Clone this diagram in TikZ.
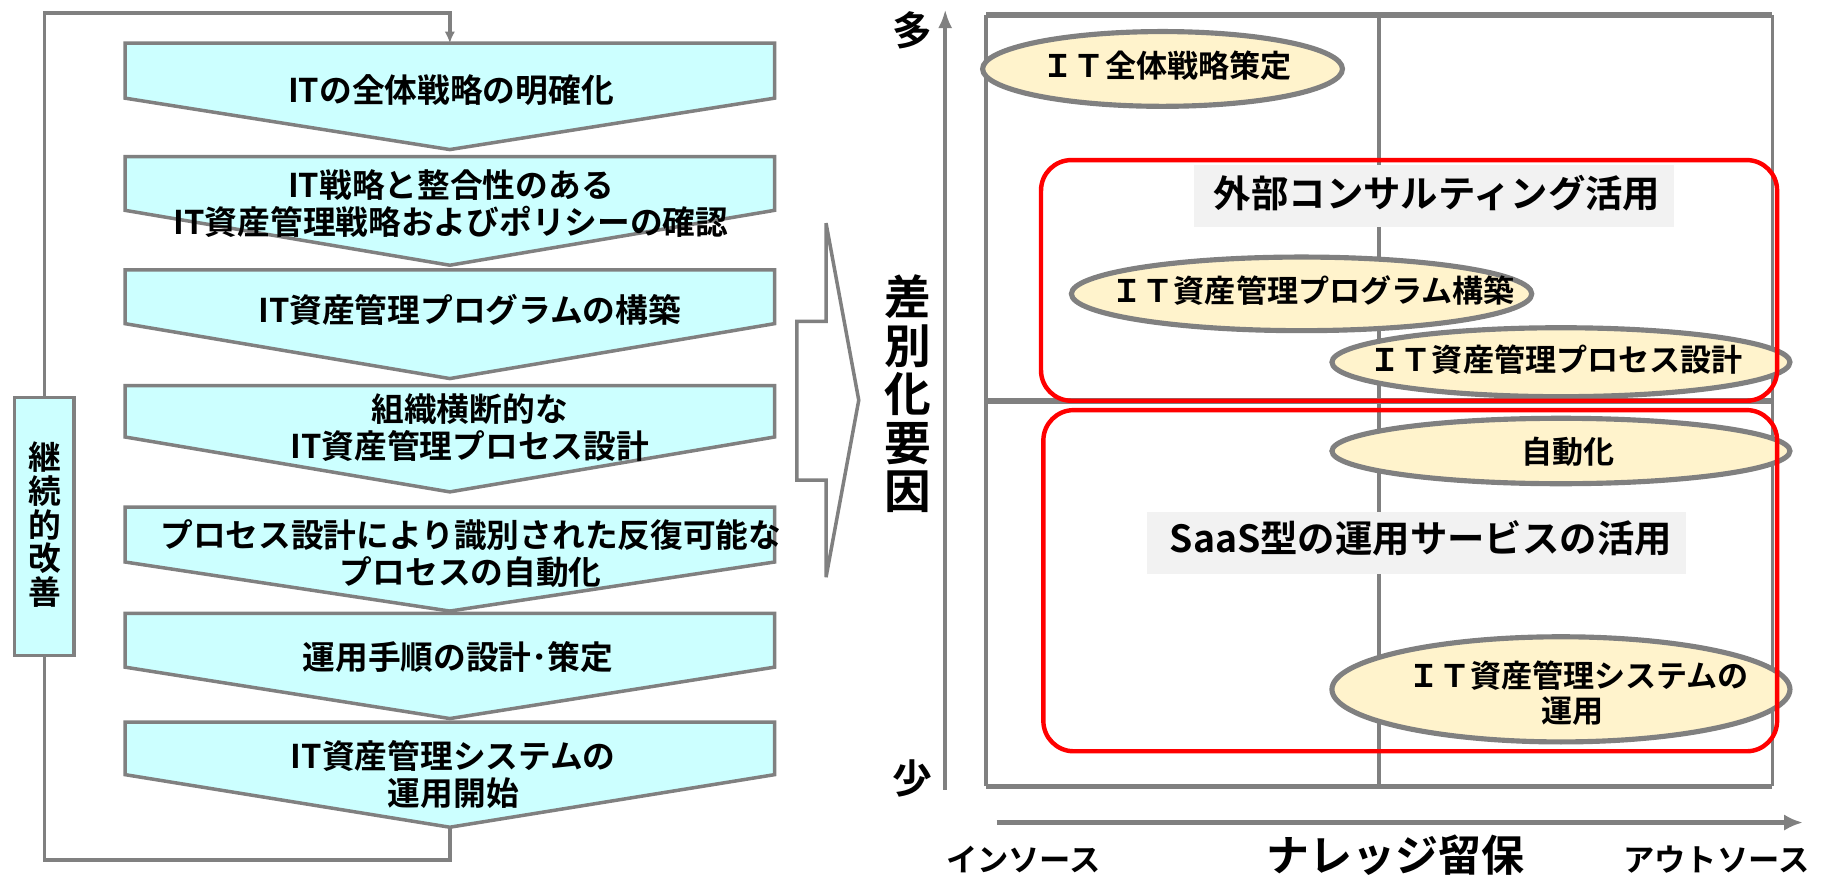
\documentclass[tikz,border=0pt]{standalone}
\usepackage{fontspec}
\newfontfamily\jp{Noto Sans CJK JP}[BoldFont={* Bold}]
\usetikzlibrary{arrows.meta,shapes.geometric}
\definecolor{lgray}{HTML}{808080}
\definecolor{chevfill}{HTML}{CCFFFF}
\definecolor{ellfill}{HTML}{FFF3CC}
\definecolor{labfill}{HTML}{F2F2F2}
\definecolor{myred}{HTML}{FF0000}
\newcommand\mychev[4]{%
  \draw[chev] (107,#2) -- (663,#2) -- (663,#3) -- (385,#4) coordinate (#1tip) -- (107,#3) -- cycle;
  \coordinate (#1top) at (385,#2);}
\begin{document}
\begin{tikzpicture}[x=0.5pt,y=-0.5pt,
  chev/.style={draw=lgray,fill=chevfill,line width=1.5pt,line join=miter},
  boxtxt/.style={font=\jp\bfseries\fontsize{14}{15.8}\selectfont,align=center,inner sep=0pt},
  loopline/.style={draw=lgray,line width=1.5pt},
  kaizen/.style={draw=lgray,fill=chevfill,line width=1.5pt,minimum width=25.5pt,minimum height=110.5pt,inner sep=0pt},
  kztext/.style={font=\jp\bfseries\fontsize{14}{14.5}\selectfont,align=center,inner sep=0pt},
  bigarrow/.style={draw=lgray,fill=white,line width=1.5pt,line join=miter},
  gridthin/.style={draw=lgray,line width=1.6pt},
  gridthick/.style={draw=lgray,line width=2.4pt},
  ell/.style={ellipse,draw=lgray,fill=ellfill,line width=2.2pt,inner sep=0pt},
  elltxt/.style={font=\jp\bfseries\fontsize{13.3}{15}\selectfont,align=center,inner sep=0pt},
  labbox/.style={fill=labfill,inner sep=0pt},
  labtxt/.style={font=\jp\bfseries\fontsize{16}{18}\selectfont,inner sep=0pt},
  redbox/.style={draw=myred,line width=1.9pt,rounded corners=13pt},
  axis/.style={draw=lgray,line width=1.6pt},
  axtxt/.style={font=\jp\bfseries\fontsize{20}{20.75}\selectfont,align=center,inner sep=0pt},
  endtxt/.style={font=\jp\bfseries\fontsize{17}{18}\selectfont,inner sep=0pt},
  xtxt/.style={font=\jp\bfseries\fontsize{13.4}{15}\selectfont,inner sep=0pt},
]
\useasboundingbox (0,0) rectangle (1568,751);
% ---------- left: process chevrons ----------
\mychev{c1}{37}{84}{128}
\mychev{c2}{134}{180}{227}
\mychev{c3}{231}{277}{324}
\mychev{c4}{330}{374}{421}
\mychev{c5}{434}{481}{523}
\mychev{c6}{525}{571}{615}
\mychev{c7}{618}{663}{708}

\node[boxtxt] (t1) at (386,77) {ITの全体戦略の明確化};
\node[boxtxt] (t2) at (386,174) {IT戦略と整合性のある\\IT資産管理戦略およびポリシーの確認};
\node[boxtxt] (t3) at (402,265) {IT資産管理プログラムの構築};
\node[boxtxt] (t4) at (402,366) {組織横断的な\\IT資産管理プロセス設計};
\node[boxtxt] (t5) at (403,474) {プロセス設計により識別された反復可能な\\プロセスの自動化};
\node[boxtxt] (t6) at (392,562) {運用手順の設計･策定};
\node[boxtxt] (t7) at (388,663) {IT資産管理システムの\\運用開始};

% continuous improvement loop
\node[kaizen] (kz) at (38,450.5) {};
\node[kztext] (kzt) at (38,449) {継\\続\\的\\改\\善};
\coordinate (lb) at (385,736);
\coordinate (lt) at (385,11);
\draw[loopline] (c7tip) -- (lb) -| (kz.south);
\draw[loopline,-{Latex[length=5pt,width=4.5pt]}] (kz.north) |- (lt) -- (c1top);

% big hollow arrow
\draw[bigarrow] (682,275) -- (707,275) -- (707,191) -- (735,342.5) -- (707,494) -- (707,411) -- (682,411) -- cycle;

% ---------- right: matrix ----------
\draw[gridthin] (844,13) -- (844,673);
\draw[gridthin] (1180,13) -- (1180,673);
\draw[gridthin] (1517,13) -- (1517,673);
\draw[gridthick] (844,13) -- (1517,13);
\draw[gridthick] (844,343) -- (1517,343);
\draw[gridthick] (844,673) -- (1517,673);

% y axis
\coordinate (yb) at (809,676);
\coordinate (yt) at (809,8);
\draw[axis,-{Latex[length=8pt,width=6pt]}] (yb) -- (yt);
\node[endtxt] (many) at (781,26) {多};
\node[endtxt] (few) at (781,666) {少};
\node[axtxt] (yl) at (777,337) {差\\別\\化\\要\\因};

% x axis
\coordinate (xl) at (853,704);
\coordinate (xr) at (1543,704);
\draw[draw=lgray,line width=2.4pt,-{Latex[length=8pt,width=7pt]}] (xl) -- (xr);
\node[xtxt] (ins) at (876,736) {インソース};
\node[xtxt] (outs) at (1469,736) {アウトソース};
\node[font=\jp\bfseries\fontsize{18.4}{20}\selectfont,inner sep=0pt] (kn) at (1194,732) {ナレッジ留保};

% label boxes
\node[labbox,minimum width=205.5pt,minimum height=26.5pt] (lab1) at (1227.5,167.5) {};
\node[labbox,minimum width=230.5pt,minimum height=26.5pt] (lab2) at (1212.5,464.5) {};

% ellipses
\node[ell,minimum width=154pt,minimum height=32pt] (e1) at (995,59) {};
\node[ell,minimum width=197pt,minimum height=31.5pt] (e2) at (1114,251.5) {};
\node[ell,minimum width=196pt,minimum height=29.5pt] (e3) at (1336,310) {};
\node[ell,minimum width=196pt,minimum height=28pt] (e4) at (1336,386) {};
\node[ell,minimum width=196pt,minimum height=45pt] (e5) at (1336,590) {};

% red groups
\draw[redbox] (891,137) rectangle (1521,343);
\draw[redbox] (893,351) rectangle (1521,643);

% texts
\node[labtxt] (lab1t) at (1230,165) {外部コンサルティング活用};
\node[labtxt] (lab2t) at (1216,461) {SaaS型の運用サービスの活用};
\node[elltxt] (e1t) at (999,56) {ＩＴ全体戦略策定};
\node[elltxt] (e2t) at (1124,249) {ＩＴ資産管理プログラム構築};
\node[elltxt] (e3t) at (1332,308) {ＩＴ資産管理プロセス設計};
\node[elltxt] (e4t) at (1342,387) {自動化};
\node[elltxt] (e5t) at (1351,578) {ＩＴ資産管理システムの};
\node[elltxt] (e5u) at (1346,609) {運用};
\end{tikzpicture}
\end{document}
